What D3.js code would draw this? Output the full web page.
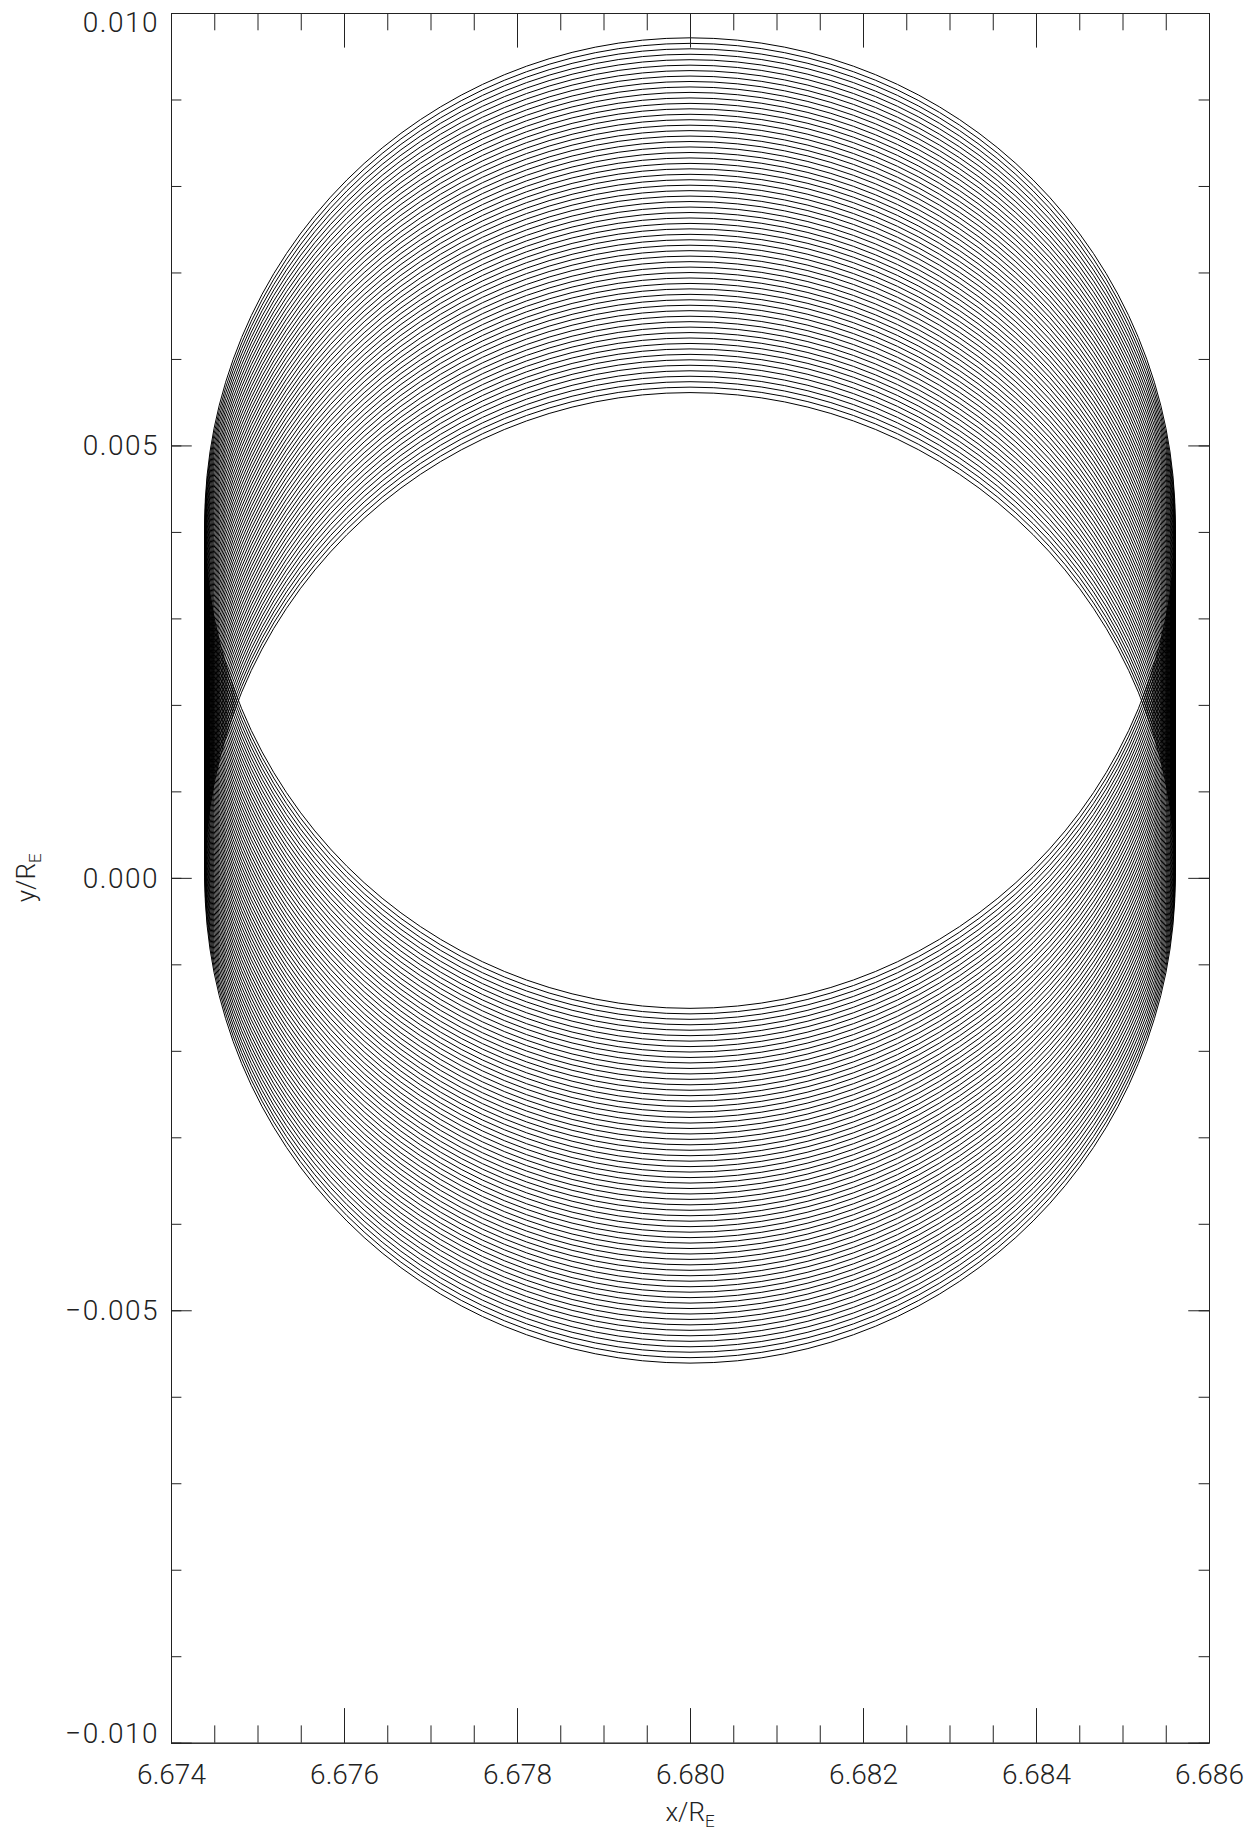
<!DOCTYPE html>
<html>
<head>
<meta charset="utf-8">
<script src="https://cdn.jsdelivr.net/npm/d3@7"></script>
<style>
  body { margin: 0; background: #fff; }
  text { font-family: Roboto, "DejaVu Sans", sans-serif; font-weight: 300; fill: #222; }
</style>
</head>
<body>
<div id="chart"></div>
<script>
'use strict';

// orbit centre (x) and drift positions of the centre in y, in units of 1e-3 R_E
var orbitCenterX = 6.680;
var orbitRadius = 0.00561;
var orbitCenterY_e3 = [
  0.000, 0.063, 0.126, 0.189, 0.252, 0.316, 0.379, 0.442, 0.505, 0.568,
  0.631, 0.694, 0.757, 0.820, 0.883, 0.947, 1.010, 1.073, 1.136, 1.199,
  1.262, 1.325, 1.388, 1.451, 1.514, 1.578, 1.641, 1.704, 1.767, 1.830,
  1.893, 1.956, 2.019, 2.082, 2.145, 2.209, 2.272, 2.335, 2.398, 2.461,
  2.524, 2.587, 2.650, 2.713, 2.776, 2.840, 2.903, 2.966, 3.029, 3.092,
  3.155, 3.218, 3.281, 3.344, 3.407, 3.471, 3.534, 3.597, 3.660, 3.723,
  3.786, 3.849, 3.912, 3.975, 4.038, 4.102
];

var xDomain = [6.674, 6.686];
var yDomain = [-0.010, 0.010];
var xMajorTicks = [6.674, 6.676, 6.678, 6.680, 6.682, 6.684, 6.686];
var yMajorTicks = [-0.010, -0.005, 0.000, 0.005, 0.010];
var xMinorStep = 0.0005;
var yMinorStep = 0.001;

var width = 1254,
    height = 1833,
    margin = {left: 171, top: 13, right: 45, bottom: 90.3};

var plotW = width - margin.left - margin.right,
    plotH = height - margin.top - margin.bottom;

var x = d3.scaleLinear().domain(xDomain).range([0, plotW]);
var y = d3.scaleLinear().domain(yDomain).range([plotH, 0]);

var fmt = d3.format(".3f");

function minorTicks(domain, step) {
  var n = Math.round((domain[1] - domain[0]) / step);
  return d3.range(n + 1).map(function(i) { return domain[0] + i * step; });
}

var svg = d3.select("#chart").append("svg")
  .attr("width", width)
  .attr("height", height);

var g = svg.append("g")
  .attr("transform", "translate(" + margin.left + "," + margin.top + ")");

// orbits
g.append("g")
  .attr("fill", "none")
  .attr("stroke", "#000")
  .attr("stroke-width", 1)
  .selectAll("circle")
  .data(orbitCenterY_e3)
  .join("circle")
    .attr("cx", x(orbitCenterX))
    .attr("cy", function(d) { return y(d * 1e-3); })
    .attr("r", x(orbitCenterX + orbitRadius) - x(orbitCenterX));

var xMajorLen = 0.02 * plotH,
    yMajorLen = 0.02 * plotW;

function styleAxis(sel) {
  sel.selectAll("path, line").attr("stroke", "#222").attr("stroke-width", 1);
  sel.selectAll("text").attr("font-size", 28).attr("font-family", null).attr("fill", "#222");
}

// bottom
g.append("g")
  .attr("transform", "translate(0," + plotH + ")")
  .call(d3.axisBottom(x).tickValues(minorTicks(xDomain, xMinorStep))
    .tickSize(-xMajorLen / 2).tickSizeOuter(0).tickFormat(""))
  .call(styleAxis);
g.append("g")
  .attr("transform", "translate(0," + plotH + ")")
  .call(d3.axisBottom(x).tickValues(xMajorTicks)
    .tickSize(-xMajorLen).tickSizeOuter(0).tickPadding(21).tickFormat(fmt))
  .call(styleAxis);

// top
g.append("g")
  .call(d3.axisTop(x).tickValues(minorTicks(xDomain, xMinorStep))
    .tickSize(-xMajorLen / 2).tickSizeOuter(0).tickFormat(""))
  .call(styleAxis);
g.append("g")
  .call(d3.axisTop(x).tickValues(xMajorTicks)
    .tickSize(-xMajorLen).tickSizeOuter(0).tickFormat(""))
  .call(styleAxis);

// left
g.append("g")
  .call(d3.axisLeft(y).tickValues(minorTicks(yDomain, yMinorStep))
    .tickSize(-yMajorLen / 2).tickSizeOuter(0).tickFormat(""))
  .call(styleAxis);
var yAxisL = g.append("g")
  .call(d3.axisLeft(y).tickValues(yMajorTicks)
    .tickSize(-yMajorLen).tickSizeOuter(0).tickPadding(12).tickFormat(fmt))
  .call(styleAxis);

// end labels sit inside the axis span, glyphs a bit wider apart
yAxisL.selectAll(".tick text")
  .attr("letter-spacing", 1.5)
  .attr("dy", function(d) {
    if (d === yDomain[1]) return "0.66em";
    if (d === yDomain[0]) return "0em";
    return "0.34em";
  });

// right
g.append("g")
  .attr("transform", "translate(" + plotW + ",0)")
  .call(d3.axisRight(y).tickValues(minorTicks(yDomain, yMinorStep))
    .tickSize(-yMajorLen / 2).tickSizeOuter(0).tickFormat(""))
  .call(styleAxis);
g.append("g")
  .attr("transform", "translate(" + plotW + ",0)")
  .call(d3.axisRight(y).tickValues(yMajorTicks)
    .tickSize(-yMajorLen).tickSizeOuter(0).tickFormat(""))
  .call(styleAxis);

// axis titles
var xt = svg.append("text")
  .attr("x", margin.left + plotW / 2)
  .attr("y", 1821)
  .attr("text-anchor", "middle")
  .attr("font-size", 26);
xt.append("tspan").text("x/R");
xt.append("tspan").attr("font-size", 17).attr("dy", 6).text("E");

var yt = svg.append("text")
  .attr("transform", "translate(35," + (margin.top + plotH / 2) + ") rotate(-90)")
  .attr("text-anchor", "middle")
  .attr("font-size", 26);
yt.append("tspan").text("y/R");
yt.append("tspan").attr("font-size", 17).attr("dy", 6).text("E");
</script>
</body>
</html>
